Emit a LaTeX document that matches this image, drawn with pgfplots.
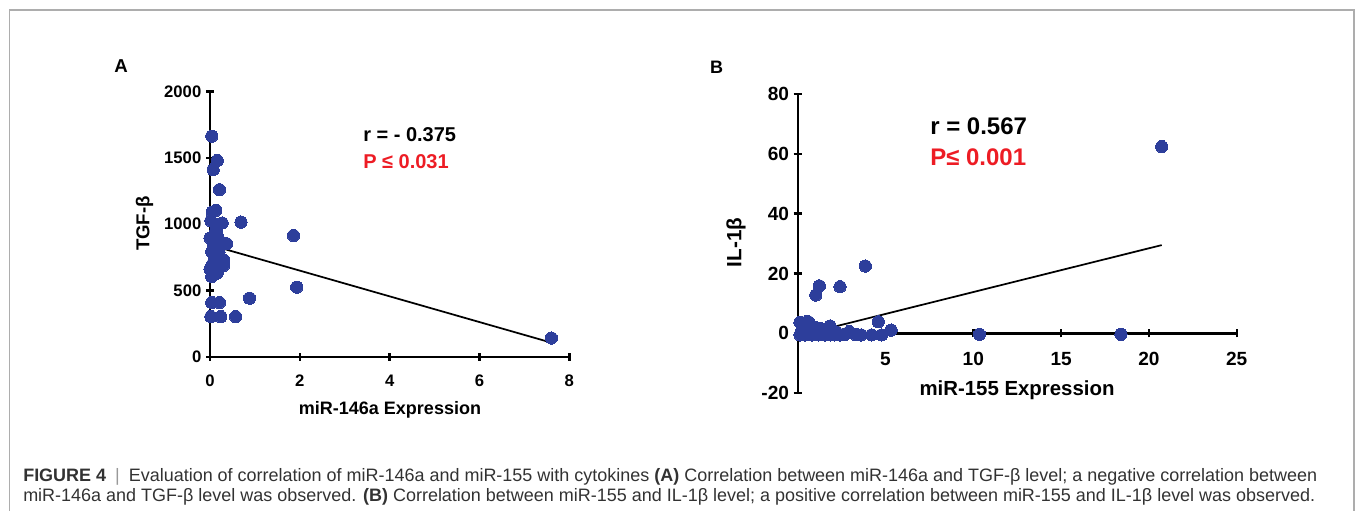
\documentclass[border=0pt]{standalone}
\usepackage{pgfplots}
\pgfplotsset{compat=1.18}
\usepackage{fontspec}
\usepackage{graphicx}
\setmainfont{Liberation Sans}
\definecolor{dotblue}{RGB}{45,62,155}
\definecolor{pred}{RGB}{237,28,36}
\definecolor{captxt}{RGB}{50,50,50}
\newcommand\tf[1]{\fontsize{#1}{#1}\selectfont\bfseries}
\pgfplotsset{
  myaxis/.style={
    scale only axis, anchor=south west, clip=false,
    axis line style={-, line width=1.8pt, black},
    tick align=outside, major tick length=6pt,
    tick style={line width=1.8pt, black},
    minor tick num=0,
    /pgf/number format/assume math mode=true,
    scaled ticks=false, /pgf/number format/1000 sep={},
  },
  dots/.style={only marks, mark=*, mark size=4.6pt, mark options={fill=dotblue, draw=dotblue, line width=0pt}},
  fit/.style={no marks, black, line width=1.3pt},
}
\begin{document}
\begin{tikzpicture}
\useasboundingbox (0,0) rectangle (1016.25pt,382.5pt);
\draw[black!32, line width=0.9pt] (7.125pt,-1.5pt) -- (7.125pt,375pt) -- (1015.5pt,375pt) -- (1015.5pt,-1.5pt);

% ---------------- Panel A ----------------
\begin{axis}[myaxis,
  at={(157.5pt,114.75pt)}, width=269.5pt, height=199.2pt,
  xmin=0, xmax=8, ymin=0, ymax=2000,
  axis lines=left,
  axis line style={-},
  xtick={0,2,4,6,8}, ytick={0,500,1000,1500,2000},
  ticklabel style={font=\tf{12.5pt}},
  xticklabel style={yshift=-7pt},
]
\addplot[fit] coordinates {(0.0,844) (7.6,108)};
\addplot[dots] table {
x y
0.04 1663
0.16 1479
0.07 1411
0.21 1260
0.13 1104
0.05 1090
0.02 1026
0.27 1009
0.69 1016
0.11 933
0.00 896
0.37 853
0.07 833
0.04 795
0.13 770
0.30 732
0.30 689
0.00 662
0.16 631
0.04 606
0.04 410
0.21 410
0.02 304
0.24 304
0.57 304
0.88 443
1.86 915
1.93 526
7.60 143
0.15 950
0.08 870
0.18 900
0.12 810
0.10 740
0.20 790
0.06 700
0.14 980
};
\end{axis}

% ---------------- Panel B ----------------
\begin{axis}[myaxis,
  at={(598.275pt,87.525pt)}, width=329.25pt, height=224.55pt,
  xmin=0, xmax=25, ymin=-20, ymax=80,
  axis x line=middle, axis y line=left,
  axis line style={-},
  hide obscured y ticks=false, hide obscured x ticks=false,
  xtick={5,10,15,20,25}, ytick={-20,0,20,40,60,80},
  ticklabel style={font=\tf{14.3pt}},
  xticklabel style={yshift=-7.5pt},
]
\addplot[fit] coordinates {(0.1,-0.65) (20.73,29.5)};
\addplot[dots] table {
x y
20.73 62.4
3.85 22.5
2.41 15.6
1.23 15.9
1.03 12.8
4.59 3.9
10.35 -0.3
18.41 -0.3
5.32 1.1
4.78 -0.5
4.21 -0.5
3.61 -0.5
2.94 0.6
2.41 -0.5
1.84 2.5
1.88 -0.5
1.27 1.7
0.55 4.0
0.13 3.7
0.62 3.8
0.13 -0.5
0.42 -0.5
0.80 -0.5
1.18 -0.5
1.56 -0.5
2.10 -0.5
2.70 -0.3
3.30 -0.4
0.30 1.2
0.70 1.5
1.00 2.0
1.50 1.2
0.20 0.5
0.95 0.2
1.40 0.3
2.20 0.5
0.50 0.8
1.70 0.4
};
\end{axis}

% ---------------- texts ----------------
\node[inner sep=0] at (90.75pt,332.625pt) {\tf{14pt}A};
\node[inner sep=0] at (537.375pt,331.875pt) {\tf{13.5pt}B};
\node[inner sep=0, rotate=90] at (108.375pt,214.875pt) {\tf{14pt}TGF-β};
\node[inner sep=0] at (292.5pt,75pt) {\tf{13.5pt}miR-146a Expression};
\node[inner sep=0, anchor=west] at (272.25pt,281.25pt) {\tf{15pt}r = - 0.375};
\node[inner sep=0, anchor=west, text=pred] at (272.25pt,261.375pt) {\tf{15pt}P ≤ 0.031};
\node[inner sep=0, rotate=90] at (552pt,200.625pt) {\tf{15.5pt}IL-1β};
\node[inner sep=0] at (762.75pt,89.5pt) {\tf{15.3pt}miR-155 Expression};
\node[inner sep=0, anchor=west] at (697.5pt,288pt) {\tf{18pt}r = 0.567};
\node[inner sep=0, anchor=west, text=pred] at (697.5pt,264.75pt) {\tf{18pt}P≤ 0.001};

\node[inner sep=0, anchor=base west, text=captxt] at (17.25pt,21.5pt) {\resizebox{970.5pt}{!}{\fontsize{11pt}{11pt}\selectfont\textbf{FIGURE 4}\enspace{\color{black!40}|}\enspace Evaluation of correlation of miR-146a and miR-155 with cytokines \textbf{(A)} Correlation between miR-146a and TGF-β level; a negative correlation between}};
\node[inner sep=0, anchor=base west, text=captxt] at (17.25pt,6.6pt) {\resizebox{969pt}{!}{\fontsize{11pt}{11pt}\selectfont miR-146a and TGF-β level was observed. \textbf{(B)} Correlation between miR-155 and IL-1β level; a positive correlation between miR-155 and IL-1β level was observed.}};
\end{tikzpicture}
\end{document}
